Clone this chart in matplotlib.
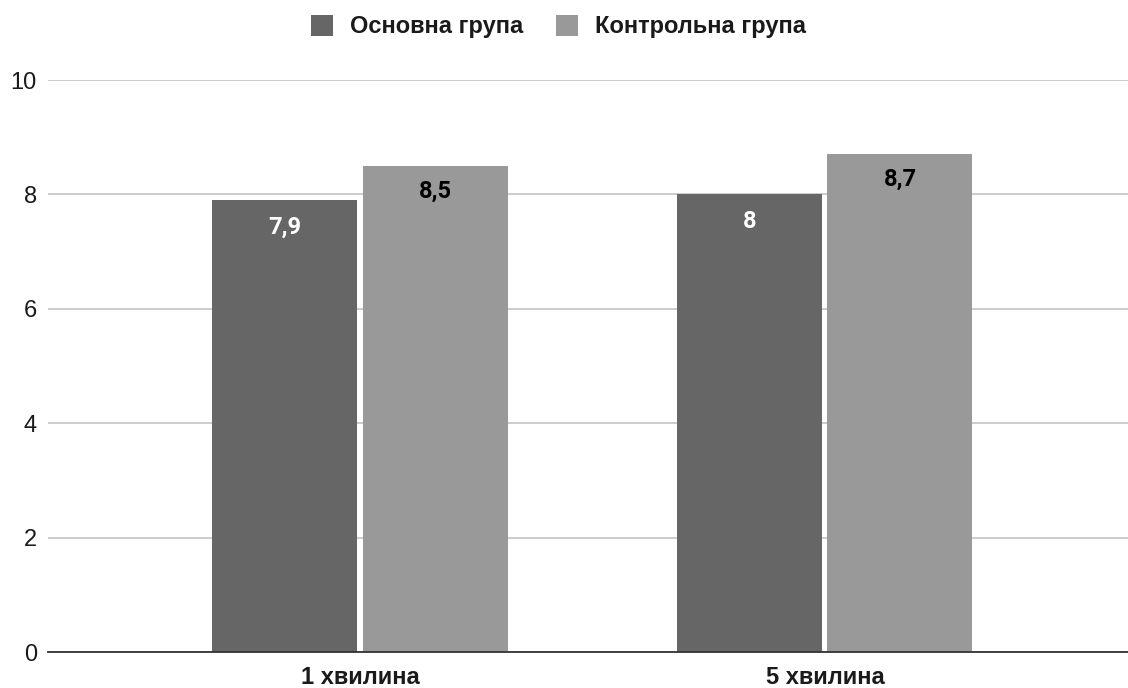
import matplotlib
matplotlib.use("Agg")
import matplotlib.pyplot as plt
import numpy as np
from matplotlib.patches import Patch

categories = ["1 хвилина", "5 хвилина"]
series_names = ["Основна група", "Контрольна група"]
main_group = [7.9, 8.0]
control_group = [8.5, 8.7]
value_labels_main = ["7,9", "8"]
value_labels_control = ["8,5", "8,7"]
y_ticks = [0, 2, 4, 6, 8, 10]

plt.rcParams["font.family"] = ["Liberation Sans", "DejaVu Sans"]

dark = "#666666"
light = "#999999"
text_col = "#1a1a1a"

fig = plt.figure(figsize=(11.28, 6.88), dpi=100)
ax = fig.add_axes([0.0426, 0.0523, 0.9574, 0.8314])

x = np.arange(len(categories))
w = 0.312
gap = 0.011
b1 = ax.bar(x - w / 2 - gap / 2, main_group, width=w, color=dark, zorder=3)
b2 = ax.bar(x + w / 2 + gap / 2, control_group, width=w, color=light, zorder=3)

label_font = ["Roboto", "DejaVu Sans"]
for rect, lab in zip(b1, value_labels_main):
    ax.annotate(lab, (rect.get_x() + rect.get_width() / 2, rect.get_height()),
                xytext=(0, -27), textcoords="offset pixels", ha="center", va="center",
                color="white", fontsize=17, fontweight="bold", family=label_font, zorder=4)
for rect, lab in zip(b2, value_labels_control):
    ax.annotate(lab, (rect.get_x() + rect.get_width() / 2, rect.get_height()),
                xytext=(0, -25), textcoords="offset pixels", ha="center", va="center",
                color="black", fontsize=17, fontweight="bold", family=label_font, zorder=4)

ax.set_xlim(-0.671, 1.652)
ax.set_ylim(0, 10)
ax.set_yticks(y_ticks)
ax.set_yticklabels([str(t) for t in y_ticks], fontsize=17, color=text_col)
ax.set_xticks(x)
ax.set_xticklabels(categories, fontsize=17, fontweight="bold", color=text_col)
ax.tick_params(axis="both", length=0)
ax.tick_params(axis="y", pad=8)
ax.tick_params(axis="x", pad=10)

ax.yaxis.grid(True, color="#cccccc", linewidth=1.4, zorder=0)
ax.set_axisbelow(True)
for s in ["top", "right", "left"]:
    ax.spines[s].set_visible(False)
ax.spines["bottom"].set_color("#333333")
ax.spines["bottom"].set_linewidth(1.3)
ax.spines["bottom"].set_zorder(5)

handles = [Patch(facecolor=dark, edgecolor="none"), Patch(facecolor=light, edgecolor="none")]
leg = fig.legend(handles, series_names, loc="center", bbox_to_anchor=(0.495, 0.961),
                 ncol=2, frameon=False, handlelength=0.95, handleheight=0.95,
                 handletextpad=0.72, columnspacing=1.36,
                 prop={"size": 17, "weight": "bold"})
for t in leg.get_texts():
    t.set_color(text_col)

fig.savefig("out.png", dpi=100)
